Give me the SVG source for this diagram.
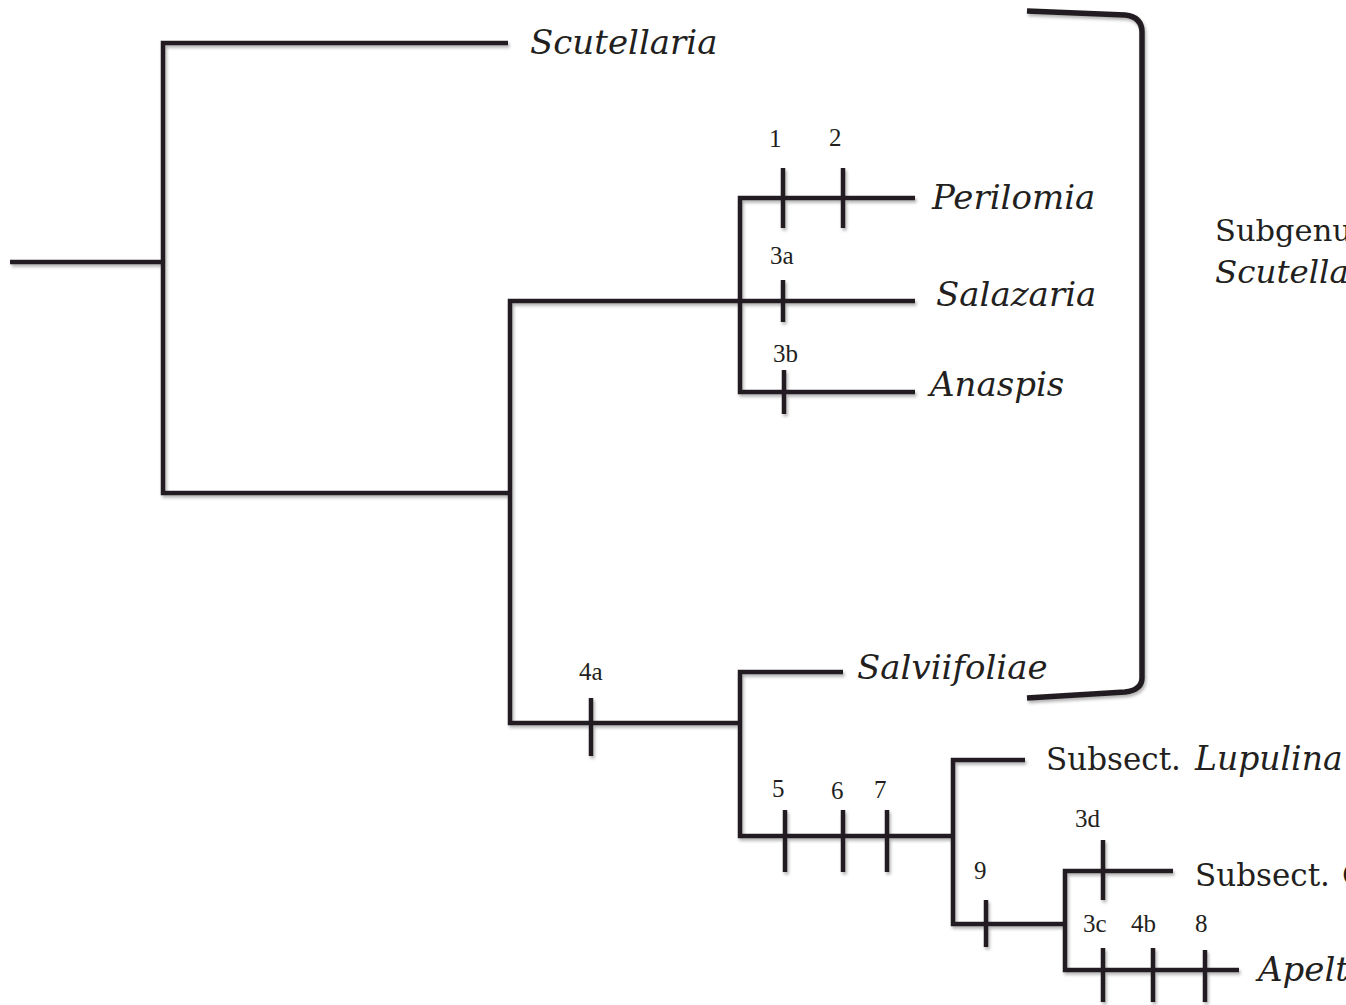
<svg xmlns="http://www.w3.org/2000/svg" width="1346" height="1005" viewBox="0 0 1346 1005">
<defs>
<filter id="sh" x="-5%" y="-5%" width="110%" height="110%">
<feDropShadow dx="1.5" dy="2.5" stdDeviation="1.5" flood-color="#000" flood-opacity="0.3"/>
</filter>
</defs>
<style>
.ln{fill:none;stroke:#231f20;stroke-width:4.5;stroke-linejoin:miter;stroke-linecap:butt}
.br{fill:none;stroke:#231f20;stroke-width:5.5;stroke-linecap:butt}
.tx{font-family:"DejaVu Serif","Liberation Serif",serif;fill:#231f20}
.big{font-size:34px}
.it{font-style:italic}
.num{font-family:"Liberation Serif","DejaVu Serif",serif;font-size:25px;fill:#231f20}
</style>
<rect width="1346" height="1005" fill="#fff"/>
<g id="connectors" filter="url(#sh)">
<line class="ln" x1="10" y1="262" x2="163" y2="262"/>
<polyline class="ln" points="508,43 163,43 163,493 510,493"/>
<polyline class="ln" points="915,301 510,301 510,723 740,723"/>
<polyline class="ln" points="915,198 740,198 740,392 915,392"/>
<line class="ln" x1="783" y1="168" x2="783" y2="228"/>
<line class="ln" x1="843" y1="168" x2="843" y2="228"/>
<line class="ln" x1="783" y1="280" x2="783" y2="322"/>
<line class="ln" x1="784" y1="370" x2="784" y2="414"/>
<line class="ln" x1="591" y1="698" x2="591" y2="756"/>
<polyline class="ln" points="843,672 740,672 740,836 953,836"/>
<line class="ln" x1="785" y1="810" x2="785" y2="872"/>
<line class="ln" x1="843" y1="810" x2="843" y2="872"/>
<line class="ln" x1="887" y1="810" x2="887" y2="872"/>
<polyline class="ln" points="1025,760 953,760 953,924 1065,924"/>
<line class="ln" x1="986" y1="900" x2="986" y2="947"/>
<polyline class="ln" points="1173,871 1065,871 1065,970 1239,970"/>
<line class="ln" x1="1103" y1="840" x2="1103" y2="900"/>
<line class="ln" x1="1103" y1="948" x2="1103" y2="1002"/>
<line class="ln" x1="1153" y1="948" x2="1153" y2="1002"/>
<line class="ln" x1="1205" y1="950" x2="1205" y2="1002"/>
<path class="br" d="M1027,11 L1125,15 Q1142,17 1142,32 L1142,678 Q1142,690 1125,692 L1027,698"/>
</g>
<g id="ticklabels">
<text class="num" x="769" y="147">1</text>
<text class="num" x="829" y="146">2</text>
<text class="num" x="770" y="264">3a</text>
<text class="num" x="773" y="362">3b</text>
<text class="num" x="579" y="680">4a</text>
<text class="num" x="772" y="797">5</text>
<text class="num" x="831" y="799">6</text>
<text class="num" x="874" y="798">7</text>
<text class="num" x="974" y="879">9</text>
<text class="num" x="1075" y="827">3d</text>
<text class="num" x="1083" y="932">3c</text>
<text class="num" x="1131" y="932">4b</text>
<text class="num" x="1195" y="932">8</text>
</g>
<g id="node-scutellaria"><text class="tx big it" x="530" y="54">Scutellaria</text></g>
<g id="node-perilomia"><text class="tx big it" x="932" y="209">Perilomia</text></g>
<g id="node-salazaria"><text class="tx big it" x="936" y="306">Salazaria</text></g>
<g id="node-anaspis"><text class="tx big it" x="930" y="396">Anaspis</text></g>
<g id="node-salviifoliae"><text class="tx big it" x="857" y="679">Salviifoliae</text></g>
<g id="node-lupulina"><text class="tx" y="770" style="font-size:31px"><tspan x="1046">Subsect.</tspan><tspan class="it" x="1195" style="font-size:33px">Lupulina</tspan></text></g>
<g id="node-subsect2"><text class="tx" y="886" style="font-size:31px"><tspan x="1195">Subsect.</tspan><tspan x="1342">C</tspan></text></g>
<g id="node-apeltanthus"><text class="tx big it" x="1258" y="981">Apeltanthus</text></g>
<g id="node-subgenus"><text class="tx" x="1215" y="241" style="font-size:30.5px">Subgenus</text><text class="tx it" x="1215" y="283" style="font-size:32.5px">Scutellaria</text></g>
</svg>
